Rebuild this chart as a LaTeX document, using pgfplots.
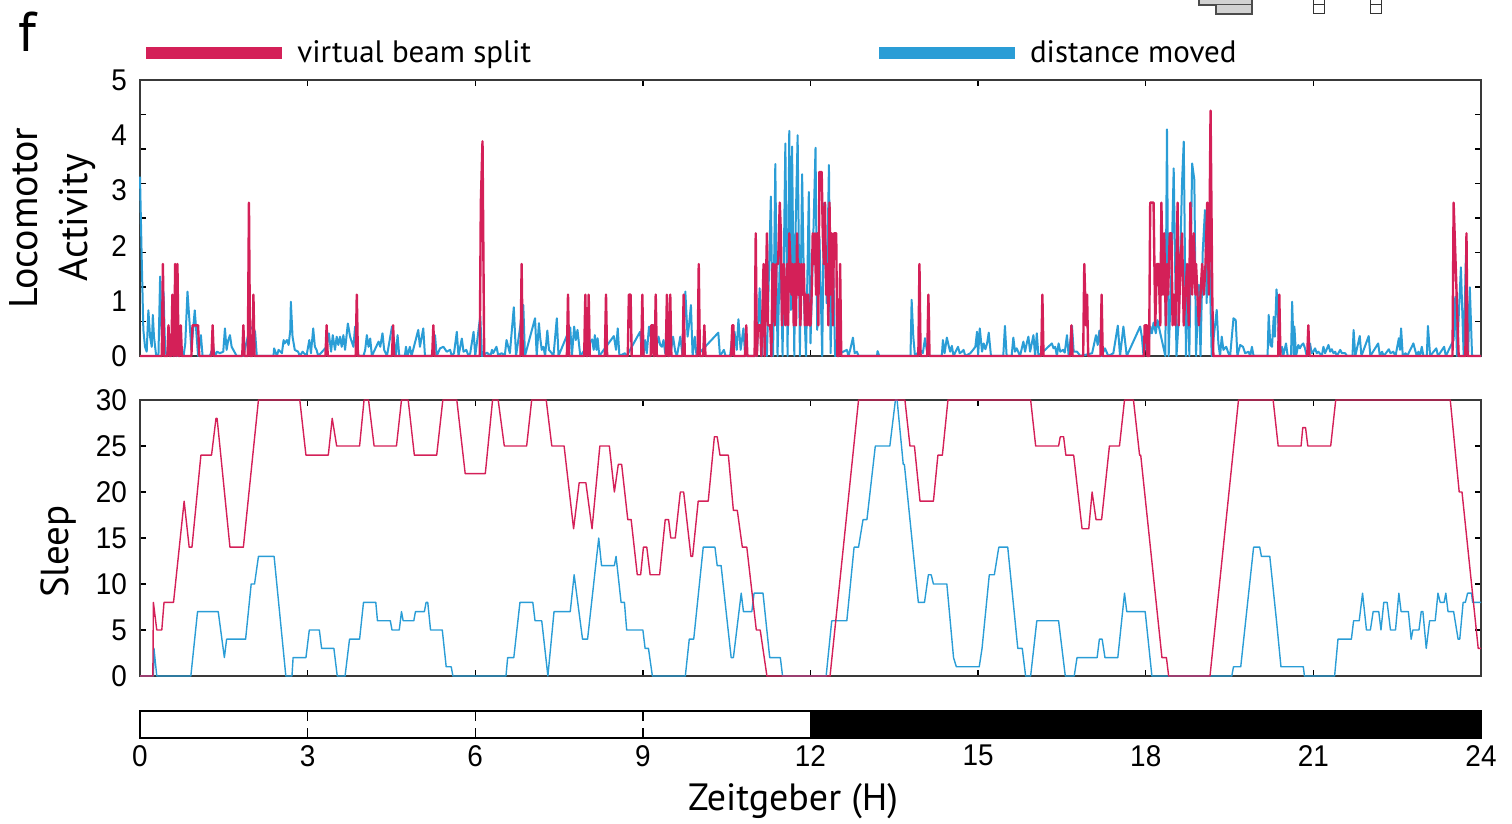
\documentclass[border=0pt]{standalone}
\usepackage{fontspec}
\setmainfont{PT Sans}
\newfontfamily\tickfont[FakeStretch=0.93]{Liberation Sans}
\usepackage{pgfplots}
\pgfplotsset{compat=1.18}
\definecolor{beam}{RGB}{212,32,88}
\definecolor{dist}{RGB}{42,157,214}

\pgfplotsset{
  panel/.style={
    scale only axis, width=670.5pt, anchor=south west,
    xmin=0, xmax=24, xtick={0,3,...,24}, xticklabels={},
    axis line style={gray!45!black, line width=0.8pt},
    tick style={black, line width=0.7pt},
    tick align=inside, major tick length=3pt,
    tick label style={font=\tickfont\fontsize{15}{15}\selectfont},
    yticklabel style={xshift=-3pt},
    /pgf/number format/assume math mode=true,
    clip=false,
  },
}

\begin{document}
\begin{tikzpicture}
\useasboundingbox (0,0) rectangle (756pt,412pt);

% locomotor activity
\begin{axis}[panel, at={(70pt,234pt)}, height=138pt,
  ymin=0, ymax=9,
  ytick={0,1.125,2.25,3.375,4.5,5.625,6.75,7.875,9}, yticklabels={},
  extra y ticks={0,1.8,3.6,5.4,7.2,9},
  extra y tick labels={0,1,2,3,4,5},
  extra y tick style={major tick length=0pt},
  ylabel={Locomotor\\Activity},
  ylabel style={align=center, font=\fontsize{20}{25}\selectfont,
    at={(axis description cs:-0.065,0.5)}, anchor=center},
  legend columns=2,
  legend cell align=left,
  legend image code/.code={\draw[line width=6pt] (0pt,0pt) -- (68pt,0pt);},
  legend style={at={(axis description cs:0,1.098)}, anchor=west,
    draw=none, fill=none, inner sep=0pt,
    font=\fontsize{15.5}{15.5}\selectfont, nodes={inner sep=0pt},
    /tikz/every odd column/.append style={column sep=4.5pt},
    /tikz/every even column/.append style={column sep=171pt}},
]
\addplot[dist, line width=1pt, line join=round, forget plot] coordinates {
(0.00,5.85)(0.03,3.24)(0.06,0.85)(0.09,0.30)(0.12,0.14)(0.15,1.49)(0.18,0.63)(0.21,0.30)
(0.23,1.34)(0.25,0.63)(0.29,0)(0.33,0)(0.36,2.59)(0.39,0.63)(0.42,2.10)(0.45,0.20)
(0.48,0)(0.54,0.09)(0.66,0)(0.72,0.09)(0.78,0)(0.81,0.41)(0.85,2.10)(0.90,0.74)
(0.92,0.20)(0.98,1.49)(1.01,0.74)(1.04,0)(1.09,0.68)(1.12,0)(1.25,0)(1.31,0.30)
(1.34,0)(1.38,0.14)(1.43,0.09)(1.49,0.14)(1.52,0.90)(1.55,0.20)(1.58,0.52)(1.61,0.68)
(1.64,0.30)(1.67,0.20)(1.73,0)(1.85,0)(1.97,0.96)(2.06,0.79)(2.09,0)(2.39,0)
(2.40,0.25)(2.45,0)(2.48,0.20)(2.54,0.09)(2.57,0.52)(2.59,0.41)(2.63,0.52)(2.66,0.36)
(2.69,0.85)(2.70,1.77)(2.73,0.63)(2.77,0.20)(2.83,0.14)(2.86,0)(2.91,0.14)(2.98,0)
(3.03,0.52)(3.06,0.09)(3.10,0.90)(3.13,0.30)(3.16,0.20)(3.19,0)(3.34,0.30)(3.38,0.74)
(3.42,0.14)(3.45,0.68)(3.49,0.20)(3.52,0.63)(3.55,0.36)(3.58,0.63)(3.61,0.30)(3.64,0.68)
(3.67,0.20)(3.72,1.06)(3.76,0.63)(3.82,0.30)(3.85,0.96)(3.91,0)(4.00,0)(4.03,0.20)
(4.06,0.68)(4.09,0.30)(4.12,0.57)(4.15,0)(4.27,0.47)(4.30,0.30)(4.34,0.74)(4.37,0.20)
(4.42,0)(4.51,0.96)(4.53,0.74)(4.58,0)(4.61,0.68)(4.64,0)(4.74,0)(4.76,0.30)
(4.79,0)(4.83,0.30)(4.86,0)(4.98,0.85)(5.01,0.30)(5.07,0.90)(5.10,0)(5.22,0)
(5.28,0.68)(5.31,0)(5.37,0.25)(5.43,0.30)(5.49,0.14)(5.55,0.20)(5.58,0)(5.62,0.09)
(5.67,0.79)(5.70,0)(5.76,0.57)(5.79,0.14)(5.84,0.20)(5.88,0)(5.91,0.09)(5.97,0.79)
(6.00,0)(6.09,1.30)(6.12,0)(6.21,0.11)(6.27,0)(6.30,0.20)(6.32,0.09)(6.38,0.30)
(6.41,0.03)(6.47,0.09)(6.53,0.03)(6.56,0.52)(6.62,0.09)(6.69,1.59)(6.73,0)(6.86,1.66)
(6.89,0)(7.07,1.23)(7.10,0)(7.14,1.07)(7.16,0.63)(7.19,0.20)(7.22,0.30)(7.25,0)
(7.29,0.83)(7.32,0.20)(7.37,0.09)(7.40,0)(7.46,1.23)(7.49,0)(7.70,0.93)(7.73,0)
(7.77,0.96)(7.80,0.52)(7.83,0.85)(7.88,0)(8.09,0.54)(8.12,0.20)(8.14,0.68)(8.17,0.20)
(8.19,0.58)(8.22,0)(8.48,0.65)(8.52,0.20)(8.55,0.90)(8.58,0)(8.68,0.09)(8.71,0)
(8.95,0.79)(8.98,0.20)(9.01,0)(9.04,0.52)(9.07,0.09)(9.11,0.96)(9.14,0.63)(9.18,1.01)
(9.21,0)(9.28,0.63)(9.31,0.36)(9.34,0.30)(9.37,0.52)(9.40,0.09)(9.46,0.63)(9.49,0)
(9.54,0.63)(9.58,0.14)(9.61,0)(9.67,0.63)(9.71,0)(9.76,2.10)(9.80,0.63)(9.83,1.07)
(9.86,1.66)(9.89,0)(9.93,0.63)(9.96,0)(10.35,0.76)(10.38,0)(10.45,0.20)(10.48,0)
(10.56,0)(10.60,0.63)(10.64,0.79)(10.68,0.20)(10.71,1.20)(10.75,0.20)(10.80,0.90)(10.83,0)
(11.04,0)(11.09,2.21)(11.13,0)(11.16,1.17)(11.22,0)(11.29,5.20)(11.33,0)(11.37,6.26)
(11.41,0)(11.46,3.89)(11.50,0)(11.55,6.93)(11.59,0)(11.62,7.34)(11.65,1.50)(11.67,6.83)
(11.71,0)(11.73,3.89)(11.77,7.20)(11.81,0)(11.85,5.93)(11.89,1.50)(11.92,0)(11.97,5.35)
(12.00,0.41)(12.05,3.89)(12.09,6.79)(12.12,0.85)(12.16,3.89)(12.21,0)(12.24,4.98)(12.29,1.72)
(12.33,6.23)(12.36,0.09)(12.40,3.57)(12.44,0)(12.65,0.20)(12.68,0)(12.71,0.20)(12.76,0.60)
(12.79,0.09)(12.83,0.14)(12.86,0)(13.19,0)(13.20,0.16)(13.23,0)(13.79,0)(13.81,1.83)
(13.84,0.63)(13.87,0)(13.96,0.20)(14.01,0.09)(14.05,0.58)(14.08,0.20)(14.13,0)(14.35,0)
(14.37,0.52)(14.40,0.09)(14.44,0.60)(14.47,0.36)(14.50,0.14)(14.53,0.33)(14.56,0)(14.64,0.30)
(14.67,0.09)(14.71,0.14)(14.74,0.20)(14.77,0)(14.86,0.09)(14.91,0.20)(14.95,0.30)(14.98,0.79)
(15.00,0.03)(15.03,0.90)(15.07,0.14)(15.10,0.41)(15.13,0.22)(15.16,0.41)(15.19,0.76)(15.23,0)
(15.45,0)(15.48,0.98)(15.51,0)(15.60,0)(15.63,0.60)(15.66,0.14)(15.69,0.25)(15.75,0)
(15.81,0.47)(15.84,0.14)(15.87,0.41)(15.90,0.63)(15.93,0.14)(15.99,0.68)(16.02,0)(16.05,0.74)
(16.08,0)(16.32,0.41)(16.35,0.25)(16.38,0.30)(16.41,0)(16.44,0.41)(16.47,0.14)(16.52,0.20)
(16.55,0.11)(16.59,0.68)(16.62,0)(16.68,0.98)(16.71,0.14)(16.77,0.14)(16.83,0)(17.04,0.09)
(17.11,0.68)(17.14,0.36)(17.17,0.83)(17.21,0)(17.27,0.25)(17.33,0)(17.42,0.09)(17.50,0.99)
(17.54,0)(17.60,0.96)(17.66,0)(17.90,0.96)(17.93,0.63)(17.96,0)(18.00,0.41)(18.04,0.20)
(18.08,0.96)(18.11,0.74)(18.14,1.09)(18.18,0.74)(18.21,1.17)(18.26,0.74)(18.32,0.25)(18.35,0)
(18.38,7.39)(18.41,0)(18.46,2.83)(18.50,6.12)(18.55,0)(18.59,1.17)(18.65,5.68)(18.68,6.99)
(18.72,0)(18.75,2.83)(18.78,0)(18.83,6.28)(18.87,5.74)(18.90,0)(18.95,2.32)(18.98,0)
(19.02,3.41)(19.06,4.76)(19.09,1.72)(19.12,4.98)(19.14,3.24)(19.18,0)(19.27,1.50)(19.30,0.41)
(19.33,0)(19.36,0.63)(19.39,0.20)(19.44,0.30)(19.48,0.09)(19.51,0)(19.57,1.23)(19.61,1.17)
(19.64,0)(19.69,0.36)(19.74,0.30)(19.78,0.09)(19.84,0.14)(19.87,0)(19.90,0.30)(19.93,0)
(20.18,0)(20.20,1.34)(20.23,0.36)(20.26,0.30)(20.29,1.28)(20.31,0.63)(20.34,2.17)(20.36,1.72)
(20.39,0)(20.44,0.30)(20.46,0)(20.51,0.41)(20.54,0)(20.60,0)(20.62,1.77)(20.65,0)
(20.66,0.96)(20.69,0)(20.73,0.36)(20.76,0.25)(20.79,0.36)(20.82,0.41)(20.85,0.25)(20.88,0)
(20.94,0.41)(20.97,0.09)(21.00,0.14)(21.03,0.25)(21.06,0.09)(21.09,0.14)(21.15,0)(21.18,0.30)
(21.21,0.09)(21.27,0.36)(21.30,0.14)(21.33,0.22)(21.36,0.09)(21.39,0.14)(21.42,0)(21.48,0.20)
(21.51,0.09)(21.57,0.09)(21.60,0)(21.70,0)(21.72,0.85)(21.75,0)(21.83,0.65)(21.86,0)
(21.99,0.65)(22.02,0)(22.16,0.41)(22.19,0)(22.23,0.14)(22.26,0)(22.35,0.22)(22.38,0.09)
(22.43,0.14)(22.47,0)(22.53,0.58)(22.55,0.20)(22.57,0.90)(22.60,0)(22.65,0.09)(22.68,0)
(22.79,0.41)(22.82,0.20)(22.85,0)(22.88,0.14)(22.91,0)(22.94,0.30)(22.97,0)(23.03,0)
(23.05,0.98)(23.09,0)(23.20,0.25)(23.23,0)(23.34,0.30)(23.37,0)(23.51,0.52)(23.54,1.93)
(23.57,0)(23.64,2.89)(23.69,0)(23.73,3.29)(23.77,0)(23.80,2.24)(23.84,0)(24.00,0)
};
\addplot[beam, line width=1.2pt, line join=round] coordinates {
(0,0)(0.39,0)(0.41,3)(0.43,0)(0.49,0)(0.51,1)(0.53,0)(0.56,0)(0.58,2)(0.60,0)(0.61,0)
(0.63,3)(0.65,0)(0.67,3)(0.69,0)(0.71,0)(0.73,1)(0.75,0)(0.92,0)(0.94,1)(1.04,1)(1.06,0)
(1.28,0)(1.30,1)(1.32,0)(1.83,0)(1.85,1)(1.87,0)(1.93,0)(1.95,5)(1.97,0)(2.01,0)(2.03,2)
(2.05,0)(3.32,0)(3.34,1)(3.36,0)(3.86,0)(3.88,2)(3.90,0)(4.51,0)(4.53,1)(4.55,0)(5.23,0)
(5.25,1)(5.27,0)(6.08,0)(6.10,5)(6.13,7)(6.16,0)(6.81,0)(6.83,3)(6.85,0)(7.64,0)(7.66,2)
(7.68,0)(7.95,0)(7.97,2)(7.99,0)(8.01,0)(8.03,2)(8.05,0)(8.32,0)(8.34,2)(8.36,0)(8.73,0)
(8.75,2)(8.78,2)(8.80,0)(8.97,0)(8.99,2)(9.01,0)(9.14,0)(9.15,1)(9.18,1)(9.19,0)(9.21,0)
(9.23,2)(9.25,0)(9.41,0)(9.43,2)(9.45,0)(9.47,0)(9.49,2)(9.51,0)(9.71,0)(9.73,2)(9.75,0)
(9.98,0)(10.00,3)(10.02,0)(10.08,0)(10.10,1)(10.12,0)(10.58,0)(10.60,1)(10.62,1)(10.63,0)
(10.83,0)(10.85,1)(10.87,0)(11.00,0)(11.02,4)(11.04,0)(11.06,1)(11.10,1)(11.12,0)(11.16,3)
(11.18,0)(11.22,4)(11.24,1)(11.28,1)(11.30,0)(11.32,3)(11.34,3)(11.36,1)(11.39,3)(11.42,3)
(11.45,5)(11.47,4)(11.49,1)(11.52,3)(11.55,1)(11.58,3)(11.60,1)(11.62,4)(11.64,3)(11.66,2)
(11.68,3)(11.70,1)(11.72,3)(11.74,1)(11.76,4)(11.78,2)(11.80,3)(11.82,1)(11.84,3)(11.86,2)
(11.88,3)(11.90,1)(11.92,2)(11.94,1)(11.96,2)(11.98,1)(12.00,1)(12.02,2)(12.04,4)(12.06,3)
(12.08,4)(12.10,2)(12.12,4)(12.14,1)(12.16,6)(12.20,6)(12.22,4)(12.24,3)(12.26,5)(12.28,2)
(12.30,3)(12.32,1)(12.34,5)(12.36,2)(12.38,4)(12.40,1)(12.42,4)(12.46,4)(12.48,0)(12.51,0)
(12.53,3)(12.55,0)(13.93,0)(13.95,3)(13.97,0)(14.09,0)(14.11,2)(14.13,0)(16.13,0)(16.15,2)
(16.17,0)(16.65,0)(16.67,1)(16.69,0)(16.88,0)(16.90,3)(16.93,1)(16.95,2)(16.97,0)(17.19,0)
(17.21,2)(17.23,0)(17.97,0)(17.98,1)(18.02,1)(18.03,0)(18.06,0)(18.08,5)(18.14,5)(18.17,1)
(18.20,3)(18.23,3)(18.26,1)(18.28,5)(18.31,2)(18.33,4)(18.36,1)(18.38,3)(18.40,2)(18.43,4)
(18.46,4)(18.48,1)(18.50,2)(18.53,1)(18.57,5)(18.59,1)(18.62,3)(18.65,4)(18.68,1)(18.71,2)
(18.74,3)(18.77,1)(18.80,5)(18.83,2)(18.86,4)(18.89,2)(18.90,3)(18.95,1)(18.98,2)(19.01,3)
(19.04,2)(19.07,3)(19.10,5)(19.13,2)(19.16,8)(19.19,2)(19.21,0)(20.37,0)(20.39,2)(20.41,0)
(20.89,0)(20.91,1)(20.93,0)(23.49,0)(23.51,5)(23.60,0)(23.72,0)(23.74,4)(23.76,0)(24,0)
};
\addlegendentry{virtual beam split}
\addlegendimage{dist}
\addlegendentry{distance moved}
\end{axis}

% sleep
\begin{axis}[panel, at={(70pt,74pt)}, height=138pt,
  ymin=0, ymax=30, ytick={0,5,...,30},
  ylabel={Sleep},
  ylabel style={font=\fontsize{19.5}{19.5}\selectfont,
    at={(axis description cs:-0.061,0.45)}, anchor=center},
]
\addplot[dist, line width=0.7pt, line join=round] coordinates {
(0.00,0)(0.24,0)(0.25,3)(0.30,0)(0.91,0)(1.03,7)(1.40,7)(1.51,2)(1.55,4)(1.89,4)(1.99,10)
(2.05,10)(2.12,13)(2.40,13)(2.61,0)(2.72,0)(2.74,2)(2.97,2)(3.03,5)(3.21,5)(3.25,3)(3.47,3)
(3.53,0)(3.67,0)(3.75,4)(3.93,4)(4.00,8)(4.22,8)(4.25,6)(4.48,6)(4.51,5)(4.64,5)(4.68,7)
(4.71,6)(4.90,6)(4.93,7)(5.09,7)(5.12,8)(5.15,8)(5.20,5)(5.41,5)(5.48,1)(5.57,1)(5.60,0)
(6.55,0)(6.58,2)(6.69,2)(6.80,8)(7.03,8)(7.07,6)(7.19,6)(7.30,0)(7.41,7)(7.70,7)(7.77,11)
(7.92,4)(8.01,4)(8.21,15)(8.26,12)(8.49,12)(8.52,13)(8.61,8)(8.67,8)(8.71,5)(9.00,5)(9.04,3)
(9.10,3)(9.17,0)(9.76,0)(9.83,4)(9.91,4)(10.08,14)(10.29,14)(10.33,12)(10.40,12)(10.58,2)
(10.62,2)(10.76,9)(10.80,7)(10.95,7)(10.99,9)(11.15,9)(11.27,2)(11.46,2)(11.50,0)(12.28,0)
(12.38,6)(12.65,6)(12.78,14)(12.86,14)(12.94,17)(13.01,17)(13.16,25)(13.42,25)(13.52,30)
(13.55,30)(13.66,23)(13.68,23)(13.93,8)(14.04,8)(14.11,11)(14.16,11)(14.20,10)(14.44,10)
(14.56,2)(14.61,1)(15.02,1)(15.07,3)(15.20,11)(15.29,11)(15.37,14)(15.53,14)(15.71,3)
(15.79,3)(15.85,0)(15.94,0)(16.05,6)(16.44,6)(16.56,0)(16.72,0)(16.77,2)(17.13,2)(17.17,4)
(17.22,4)(17.27,2)(17.50,2)(17.62,9)(17.66,7)(17.99,7)(18.11,0)(19.54,0)(19.57,1)(19.70,1)
(19.93,14)(20.04,14)(20.07,13)(20.22,13)(20.34,6)(20.42,1)(20.82,1)(20.84,0)(21.38,0)
(21.44,4)(21.68,4)(21.72,6)(21.82,6)(21.88,9)(21.95,5)(22.02,5)(22.07,7)(22.17,7)(22.21,5)
(22.26,8)(22.32,8)(22.38,5)(22.47,5)(22.53,9)(22.57,7)(22.70,7)(22.75,4)(22.78,5)(22.89,5)
(22.93,7)(22.96,7)(23.02,3)(23.08,6)(23.18,6)(23.23,9)(23.27,8)(23.34,8)(23.37,9)(23.41,7)
(23.51,7)(23.59,4)(23.62,4)(23.68,8)(23.72,8)(23.76,9)(23.83,9)(23.85,8)(24.00,8)
};
\addplot[beam, line width=0.7pt, line join=round] coordinates {
(0.00,0)(0.23,0)(0.24,8)(0.30,5)(0.39,5)(0.43,8)(0.60,8)(0.79,19)(0.88,14)(0.93,14)(1.09,24)
(1.28,24)(1.36,28)(1.38,28)(1.61,14)(1.85,14)(2.12,30)(2.86,30)(2.97,24)(3.37,24)(3.44,28)
(3.52,25)(3.93,25)(4.01,30)(4.09,30)(4.19,25)(4.59,25)(4.68,30)(4.80,30)(4.91,24)(5.31,24)
(5.42,30)(5.67,30)(5.82,22)(6.18,22)(6.31,30)(6.41,30)(6.52,25)(6.92,25)(7.01,30)(7.27,30)
(7.37,25)(7.59,25)(7.76,16)(7.86,21)(7.98,21)(8.09,16)(8.23,25)(8.40,25)(8.49,20)(8.56,23)
(8.62,23)(8.73,17)(8.79,17)(8.90,11)(8.96,11)(9.01,14)(9.07,14)(9.13,11)(9.30,11)(9.40,17)
(9.46,17)(9.50,15)(9.58,15)(9.67,20)(9.73,20)(9.86,13)(9.89,13)(9.99,19)(10.17,19)(10.28,26)
(10.33,26)(10.38,24)(10.53,24)(10.62,18)(10.69,18)(10.78,14)(10.86,14)(11.03,5)(11.10,5)
(11.22,0)(12.35,0)(12.86,30)(13.69,30)(13.78,25)(13.86,25)(13.96,19)(14.20,19)(14.28,24)
(14.36,24)(14.46,30)(15.94,30)(16.03,25)(16.44,25)(16.47,26)(16.53,26)(16.57,24)(16.71,24)
(16.86,16)(16.98,16)(17.04,20)(17.11,17)(17.21,17)(17.35,25)(17.53,25)(17.62,30)(17.78,30)
(17.89,24)(17.91,24)(18.29,2)(18.37,2)(18.41,0)(19.15,0)(19.66,30)(20.28,30)(20.37,25)
(20.78,25)(20.81,27)(20.86,27)(20.90,25)(21.31,25)(21.40,30)(23.45,30)(23.61,20)(23.66,20)
(23.95,3)(24.00,3)
};
\end{axis}

% light / dark bar
\begin{axis}[panel, at={(70pt,43pt)}, height=13.5pt,
  ymin=0, ymax=1, ytick=\empty,
  xticklabels={0,3,6,9,12,15,18,21,24},
  axis line style={black, line width=0.8pt},
  major tick length=5pt,
  xlabel={Zeitgeber (H)},
  xlabel style={font=\fontsize{19}{19}\selectfont,
    at={(axis description cs:0.487,0)}, anchor=center, yshift=-31.5pt},
]
\addplot[fill=black, draw=black] coordinates {(12,0)(24,0)(24,1)(12,1)} -- cycle;
\end{axis}

\node[anchor=base west, inner sep=0pt, font=\fontsize{28}{28}\selectfont] at (9pt,386pt) {f};

% fragments of the neighbouring panel
\draw[gray!60!black, fill=gray!35, line width=0.6pt]
  (599.5pt,413pt) -- (599.5pt,409.5pt) -- (608pt,409.5pt) -- (608pt,405pt)
  -- (626pt,405pt) -- (626pt,413pt);
\draw[gray!60!black, line width=0.5pt] (608pt,409.5pt) -- (626pt,409.5pt);
\draw[gray!40!black, line width=0.5pt] (656.5pt,413pt) rectangle (662pt,405pt)
  (656.5pt,409.5pt) -- (662pt,409.5pt);
\draw[gray!40!black, line width=0.5pt] (685pt,413pt) rectangle (690.5pt,405pt)
  (685pt,409.5pt) -- (690.5pt,409.5pt);
\end{tikzpicture}
\end{document}
